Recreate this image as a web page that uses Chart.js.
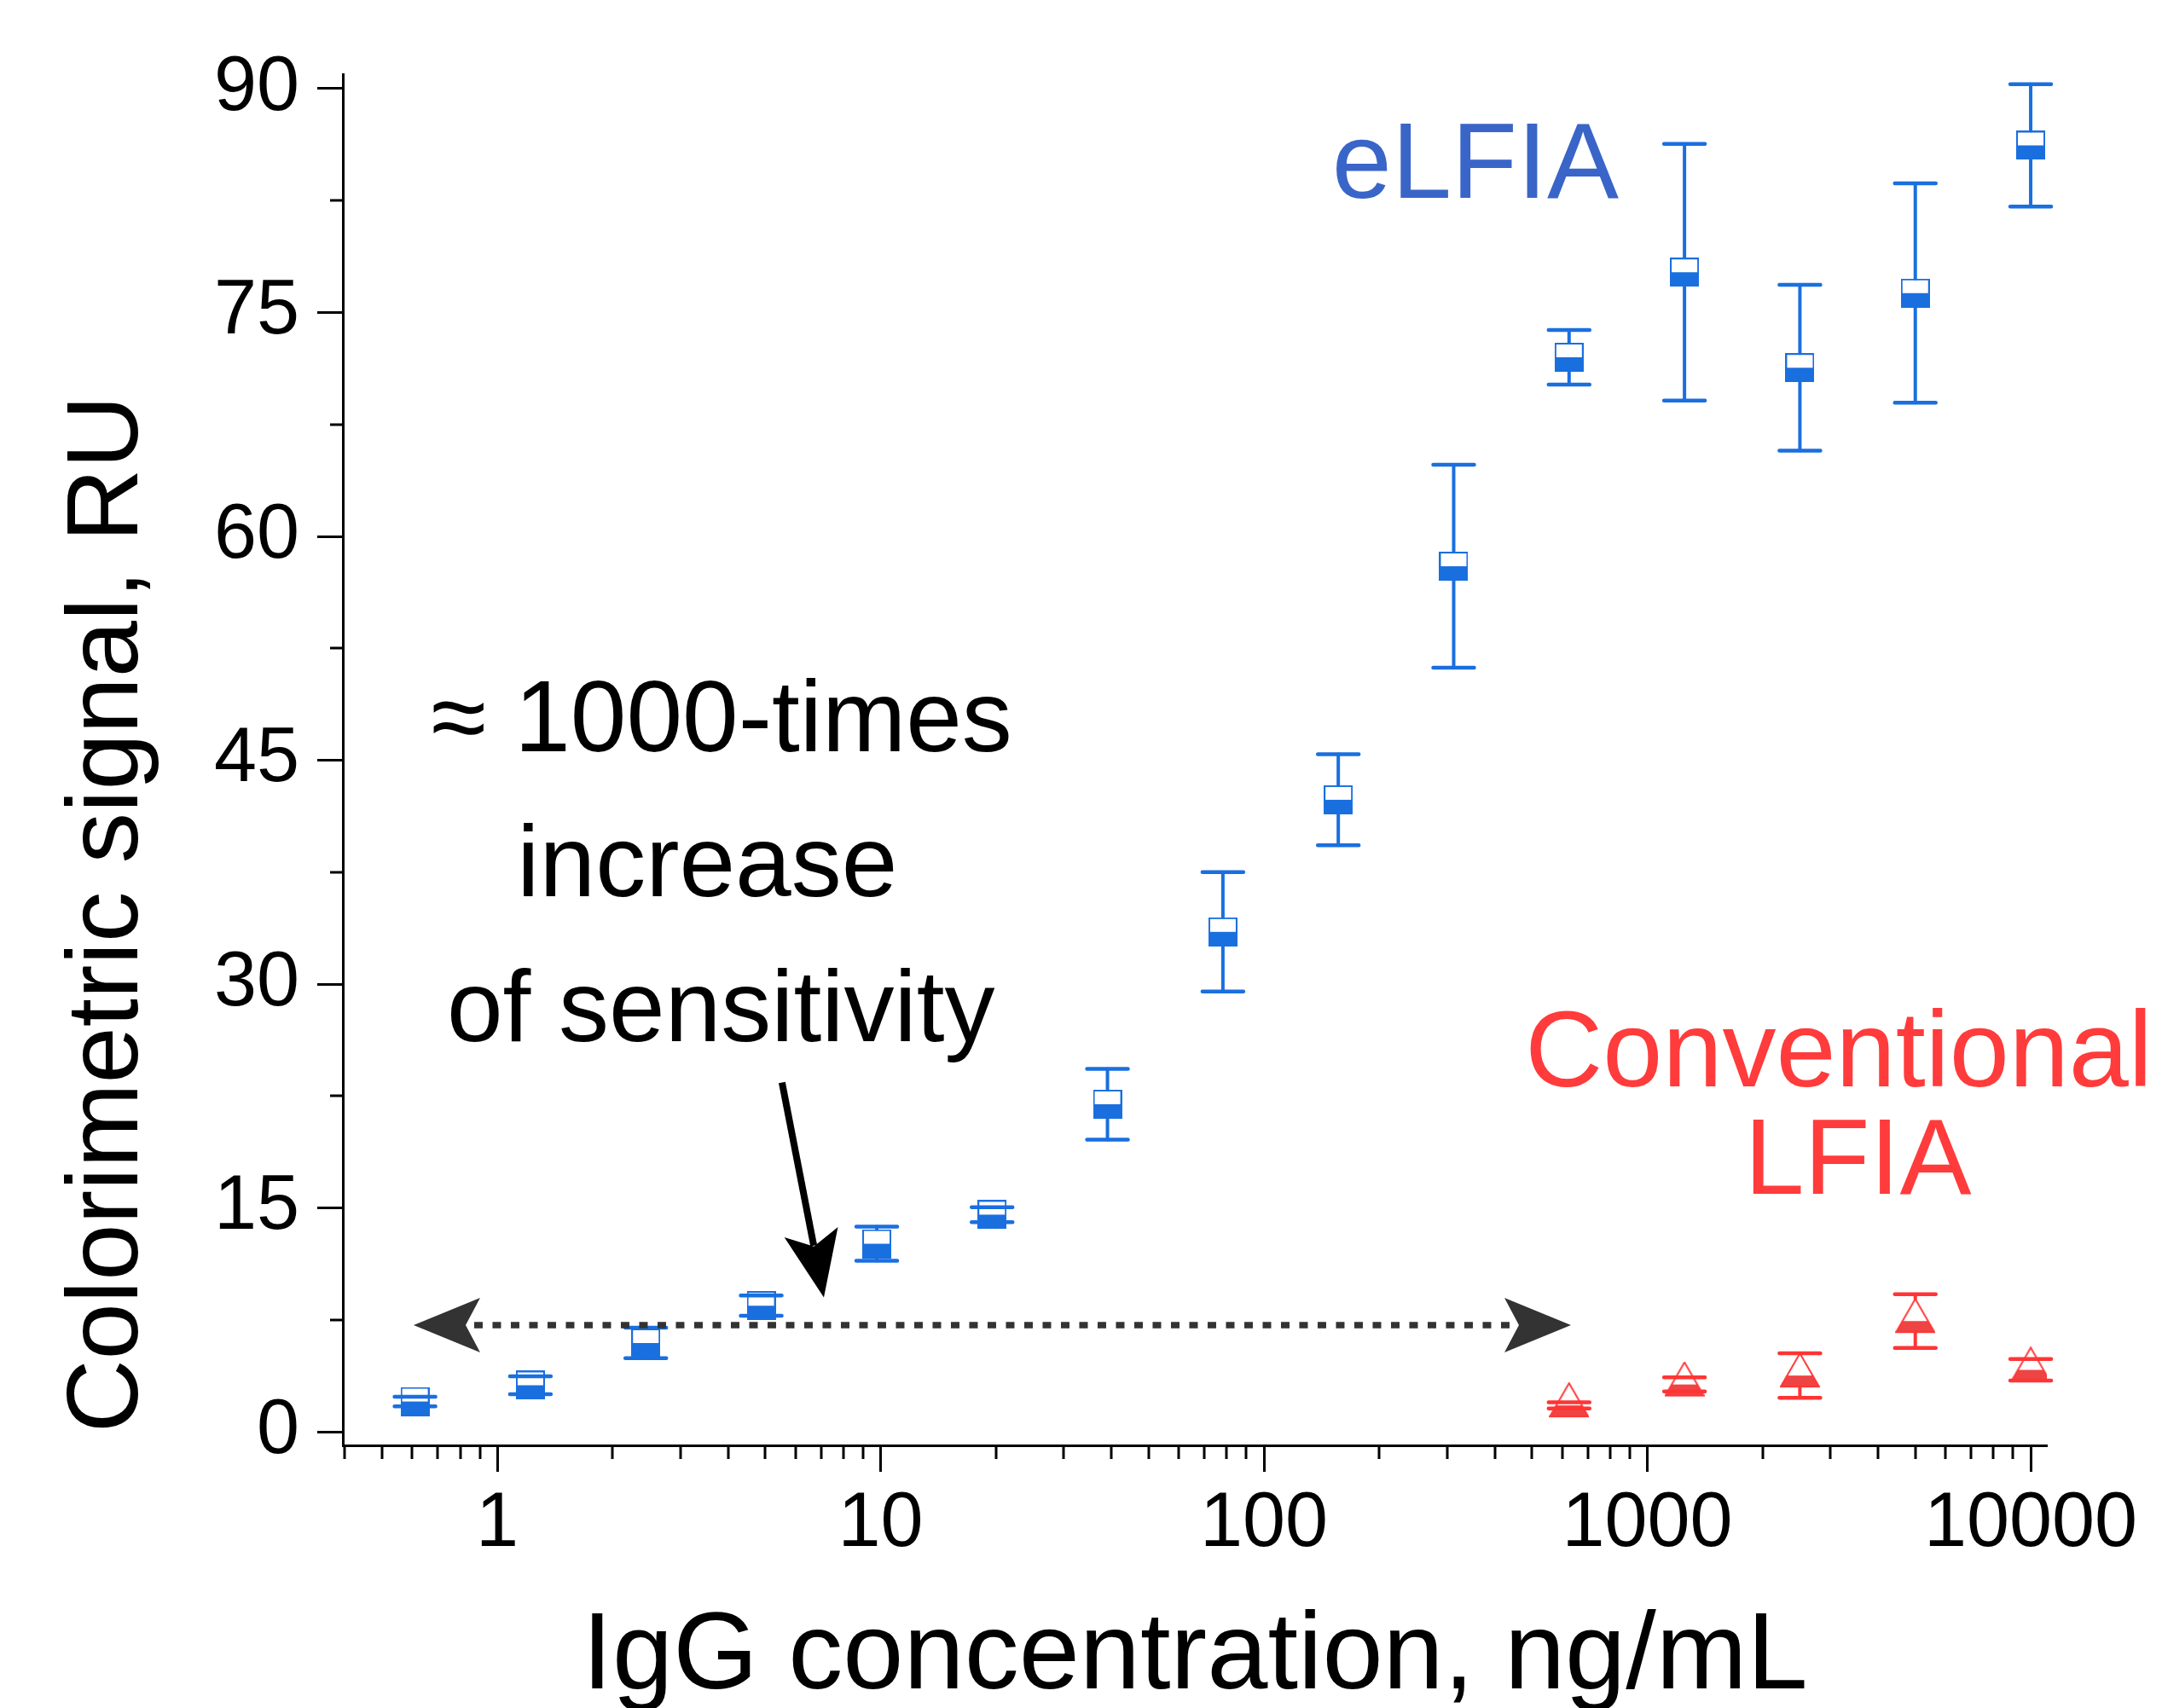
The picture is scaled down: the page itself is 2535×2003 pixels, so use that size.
<!DOCTYPE html>
<html lang="en">
<head>
    <meta charset="UTF-8">
    <title>eLFIA vs conventional LFIA</title>
    <script src="https://cdn.jsdelivr.net/npm/chart.js"></script>
    <style>
        body {
            margin: 0;
            background: #fff;
        }

        .chart-box {
            position: relative;
            width: 2535px;
            height: 2003px;
        }
    </style>
</head>
<body>
    <div class="chart-box"><canvas id="signal-chart"></canvas></div>

    <script>
        // IgG concentration, ng/mL (two-fold dilutions)
        const concentrations = [0.61, 1.22, 2.44, 4.88, 9.77, 19.53, 39.06, 78.13, 156.25, 312.5, 625, 1250, 2500, 5000, 10000];
        const elfiaSignal = [2.03, 3.12, 5.95, 8.45, 12.6, 14.55, 21.95, 33.5, 42.35, 58.0, 72.0, 77.7, 71.3, 76.3, 86.2];
        const elfiaError = [0.32, 0.6, 1.02, 0.68, 1.14, 0.5, 2.37, 4.0, 3.05, 6.8, 1.83, 8.6, 5.55, 7.35, 4.1];

        const lfiaConcentrations = [625, 1250, 2500, 5000, 10000];
        const lfiaSignal = [1.77, 3.17, 3.77, 7.42, 4.15];
        const lfiaError = [0.21, 0.47, 1.49, 1.8, 0.72];

        const xTicks = [1, 10, 100, 1000, 10000];
        const xMinorTicks = [0.4, 0.5, 0.6, 0.7, 0.8, 0.9];
        [1, 10, 100, 1000].forEach(d => {
            for (let k = 2; k <= 9; k++) xMinorTicks.push(k * d);
        });
        const yTicks = [0, 15, 30, 45, 60, 75, 90];
        const yMinorTicks = [7.5, 22.5, 37.5, 52.5, 67.5, 82.5];

        const fontFamily = "'Liberation Sans', Arial, Helvetica, sans-serif";
        const blue = '#1a6fdf';
        const red = '#ff3535';

        // half filled square (bottom half solid), like the Origin symbol
        function boxMarker(size, color) {
            const c = document.createElement('canvas');
            c.width = size;
            c.height = size;
            const g = c.getContext('2d');
            g.fillStyle = '#fff';
            g.fillRect(0, 0, size, size);
            g.fillStyle = color;
            g.fillRect(0, size / 2, size, size / 2);
            g.strokeStyle = color;
            g.lineWidth = 2;
            g.strokeRect(1, 1, size - 2, size - 2);
            return c;
        }

        // half filled triangle, centred on its centroid
        function triangleMarker(w, h, color, fill) {
            const c = document.createElement('canvas');
            const ch = Math.round(h * 4 / 3) + 2;
            c.width = w;
            c.height = ch;
            const g = c.getContext('2d');
            const mid = ch / 2;
            const top = mid - h * 2 / 3;
            const bot = mid + h / 3;
            g.beginPath();
            g.moveTo(w / 2, top);
            g.lineTo(w - 1, bot);
            g.lineTo(1, bot);
            g.closePath();
            g.fillStyle = '#fff';
            g.fill();
            g.save();
            g.clip();
            g.fillStyle = fill;
            g.fillRect(0, mid, w, ch - mid);
            g.restore();
            g.strokeStyle = color;
            g.lineWidth = 2;
            g.stroke();
            return c;
        }

        const blueMarker = boxMarker(34, blue);
        const redMarker = triangleMarker(47, 39, red, '#ef4444');

        // error bars drawn over the symbols, vertical part stops at the symbol edge
        const errorBars = {
            id: 'errorBars',
            afterDatasetsDraw(chart) {
                const { ctx, scales: { x, y } } = chart;
                const draw = (xs, means, errs, color, gapUp, gapDown) => {
                    ctx.save();
                    ctx.strokeStyle = color;
                    ctx.lineCap = 'round';
                    xs.forEach((xv, i) => {
                        const px = x.getPixelForValue(xv);
                        const py = y.getPixelForValue(means[i]);
                        const hi = y.getPixelForValue(means[i] + errs[i]);
                        const lo = y.getPixelForValue(means[i] - errs[i]);
                        ctx.lineWidth = 4;
                        ctx.beginPath();
                        if (hi < py - gapUp) {
                            ctx.moveTo(px, hi);
                            ctx.lineTo(px, py - gapUp);
                        }
                        if (lo > py + gapDown) {
                            ctx.moveTo(px, py + gapDown);
                            ctx.lineTo(px, lo);
                        }
                        ctx.stroke();
                        ctx.lineWidth = 4.5;
                        ctx.beginPath();
                        ctx.moveTo(px - 24, hi);
                        ctx.lineTo(px + 24, hi);
                        ctx.moveTo(px - 24, lo);
                        ctx.lineTo(px + 24, lo);
                        ctx.stroke();
                    });
                    ctx.restore();
                };
                draw(concentrations, elfiaSignal, elfiaError, blue, 17, 17);
                draw(lfiaConcentrations, lfiaSignal, lfiaError, red, 26, 13);
            }
        };

        function stealthHead(ctx, tx, ty, ux, uy, len, notch, half) {
            const nx = -uy, ny = ux;
            ctx.beginPath();
            ctx.moveTo(tx, ty);
            ctx.lineTo(tx - ux * len + nx * half, ty - uy * len + ny * half);
            ctx.lineTo(tx - ux * notch, ty - uy * notch);
            ctx.lineTo(tx - ux * len - nx * half, ty - uy * len - ny * half);
            ctx.closePath();
            ctx.fill();
        }

        // minor ticks, arrows, labels and axis titles
        const decorations = {
            id: 'decorations',
            afterDraw(chart) {
                const { ctx, chartArea: area, scales: { x, y } } = chart;
                ctx.save();

                ctx.strokeStyle = '#000';
                ctx.lineWidth = 3;
                ctx.beginPath();
                xMinorTicks.forEach(v => {
                    const px = Math.round(x.getPixelForValue(v));
                    ctx.moveTo(px, area.bottom);
                    ctx.lineTo(px, area.bottom + 16);
                });
                yMinorTicks.forEach(v => {
                    const py = Math.round(y.getPixelForValue(v));
                    ctx.moveTo(area.left - 15, py);
                    ctx.lineTo(area.left, py);
                });
                ctx.stroke();

                // dotted double arrow between the two detection limits
                const ay = y.getPixelForValue(7.14);
                const ax0 = x.getPixelForValue(0.605);
                const ax1 = x.getPixelForValue(632);
                ctx.strokeStyle = '#333';
                ctx.fillStyle = '#333';
                ctx.lineWidth = 7.5;
                ctx.setLineDash([10, 11.5]);
                ctx.beginPath();
                ctx.moveTo(ax0 + 71, ay);
                ctx.lineTo(ax1 - 72, ay);
                ctx.stroke();
                ctx.setLineDash([]);
                stealthHead(ctx, ax0, ay, -1, 0, 78, 61, 32);
                stealthHead(ctx, ax1, ay, 1, 0, 78, 61, 32);

                // pointer arrow
                const bx0 = x.getPixelForValue(5.53), by0 = y.getPixelForValue(23.4);
                const bx1 = x.getPixelForValue(7.11), by1 = y.getPixelForValue(9.0);
                const d = Math.hypot(bx1 - bx0, by1 - by0);
                const ux = (bx1 - bx0) / d, uy = (by1 - by0) / d;
                ctx.strokeStyle = '#000';
                ctx.fillStyle = '#000';
                ctx.lineWidth = 8;
                ctx.beginPath();
                ctx.moveTo(bx0, by0);
                ctx.lineTo(bx1 - ux * 62, by1 - uy * 62);
                ctx.stroke();
                stealthHead(ctx, bx1, by1, ux, uy, 78, 61, 32);

                const text = (str, xv, yv, size, color) => {
                    ctx.font = size + 'px ' + fontFamily;
                    ctx.fillStyle = color;
                    ctx.textAlign = 'center';
                    ctx.textBaseline = 'alphabetic';
                    ctx.fillText(str, x.getPixelForValue(xv), y.getPixelForValue(yv));
                };
                text('\u2248 1000-times', 3.85, 45.6, 118, '#000');
                text('increase', 3.53, 35.9, 118, '#000');
                text('of sensitivity', 3.83, 26.2, 118, '#000');
                text('eLFIA', 356, 82.7, 126, '#3a65c8');
                text('Conventional', 3159, 23.14, 126, '#ff3b3b');
                text('LFIA', 3544, 15.94, 126, '#ff3b3b');

                // axis titles
                ctx.fillStyle = '#000';
                ctx.textAlign = 'center';
                ctx.font = '128px ' + fontFamily;
                ctx.fillText('IgG concentration, ng/mL', (area.left + area.right) / 2, area.bottom + 285);
                ctx.font = '119px ' + fontFamily;
                ctx.translate(area.left - 241, area.top + 985);
                ctx.rotate(-Math.PI / 2);
                ctx.fillText('Colorimetric signal, RU', 0, 0);

                ctx.restore();
            }
        };

        const ctx = document.getElementById('signal-chart').getContext('2d');
        const signalChart = new Chart(ctx, {
            type: 'scatter',
            data: {
                datasets: [{
                    label: 'eLFIA',
                    data: concentrations.map((c, i) => ({ x: c, y: elfiaSignal[i] })),
                    pointStyle: blueMarker,
                    pointRadius: 17,
                    showLine: false
                }, {
                    label: 'Conventional LFIA',
                    data: lfiaConcentrations.map((c, i) => ({ x: c, y: lfiaSignal[i] })),
                    pointStyle: redMarker,
                    pointRadius: 20,
                    showLine: false
                }]
            },
            options: {
                responsive: true,
                maintainAspectRatio: false,
                animation: false,
                events: [],
                layout: {
                    padding: { top: 87, right: 135, left: 0, bottom: 0 }
                },
                plugins: {
                    legend: { display: false },
                    tooltip: { enabled: false }
                },
                scales: {
                    x: {
                        type: 'logarithmic',
                        min: 0.3955,
                        max: 11020,
                        afterBuildTicks: scale => {
                            scale.ticks = xTicks.map(v => ({ value: v }));
                        },
                        afterFit: scale => {
                            scale.height = 308;
                        },
                        grid: {
                            drawOnChartArea: false,
                            tickLength: 31,
                            tickWidth: 3,
                            tickColor: '#000'
                        },
                        border: { display: true, color: '#000', width: 3 },
                        ticks: {
                            autoSkip: false,
                            maxRotation: 0,
                            padding: 8,
                            color: '#000',
                            font: { family: fontFamily, size: 90 },
                            callback: v => String(v)
                        }
                    },
                    y: {
                        type: 'linear',
                        min: -0.91,
                        max: 90.97,
                        afterBuildTicks: scale => {
                            scale.ticks = yTicks.map(v => ({ value: v }));
                        },
                        afterFit: scale => {
                            scale.width = 402;
                        },
                        grid: {
                            drawOnChartArea: false,
                            tickLength: 30,
                            tickWidth: 3,
                            tickColor: '#000'
                        },
                        border: { display: true, color: '#000', width: 3 },
                        ticks: {
                            padding: 21,
                            color: '#000',
                            font: { family: fontFamily, size: 90 }
                        }
                    }
                }
            },
            plugins: [errorBars, decorations]
        });
    </script>
</body>
</html>
